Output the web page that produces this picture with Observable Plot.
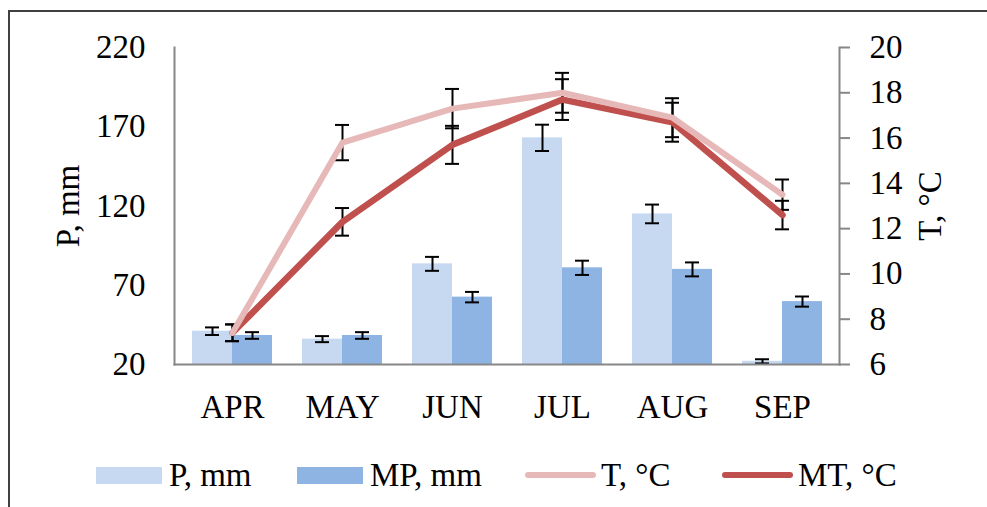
<!DOCTYPE html>
<html>
<head>
<meta charset="utf-8">
<script src="https://cdn.jsdelivr.net/npm/d3@7"></script>
<script src="https://cdn.jsdelivr.net/npm/@observablehq/plot@0.6"></script>
<style>
  html, body { margin: 0; padding: 0; background: #fff; overflow: hidden; }
  body { width: 987px; height: 507px; position: relative; font-family: "Liberation Serif", "Times New Roman", serif; }
  #frame { position: absolute; left: 8px; top: 10px; width: 1100px; height: 600px; border: 2px solid #404040; box-sizing: border-box; }
  #chart { position: absolute; left: 0; top: 0; width: 987px; height: 440px; }
  #chart svg { position: absolute; left: 0; top: 0; }
  .leg { position: absolute; top: 456px; height: 38px; display: flex; align-items: center; font-size: 33px; color: #000; white-space: nowrap; }
  .sw-bar { width: 66px; height: 17px; margin-right: 7px; }
  .sw-line { width: 71px; height: 6px; border-radius: 3px; margin-right: 5px; }
</style>
</head>
<body>
<div id="frame"></div>
<div id="chart"></div>
<div id="legend"></div>
<script>
// ---- data ----
const months = ["APR", "MAY", "JUN", "JUL", "AUG", "SEP"];
const barSeries = ["P, mm", "MP, mm"];
const lineSeries = ["T, °C", "MT, °C"];
const P      = [41, 36, 83.5, 163, 115, 22];
const P_err  = [2.4, 1.9, 4.4, 8.3, 5.9, 1.3];
const MP     = [38.3, 38.3, 62.5, 81, 80, 59.7];
const MP_err = [2.1, 2.1, 3.3, 4.5, 4.4, 3.2];
const T      = [7.4, 15.8, 17.3, 18.0, 16.9, 13.5];
const T_err  = [0.37, 0.78, 0.87, 0.88, 0.86, 0.67];
const MT     = [7.4, 12.3, 15.7, 17.7, 16.7, 12.6];
const MT_err = [0.37, 0.61, 0.84, 0.9, 0.86, 0.63];
const pTicks = [20, 70, 120, 170, 220];
const tTicks = [6, 8, 10, 12, 14, 16, 18, 20];
const barColors = ["#C6D9F1", "#8EB4E3"];
const lineColors = ["#E6B9B8", "#C0504D"];

const barData = months.flatMap((m, i) => [
  {month: m, series: barSeries[0], v: P[i], e: P_err[i]},
  {month: m, series: barSeries[1], v: MP[i], e: MP_err[i]}
]);
const lineData = months.flatMap((m, i) => [
  {month: m, series: lineSeries[0], v: T[i], e: T_err[i]},
  {month: m, series: lineSeries[1], v: MT[i], e: MT_err[i]}
]);

const W = 987, H = 440;
const dims = {width: W, height: H, marginLeft: 174, marginRight: 148, marginTop: 47, marginBottom: 76};
const style = {fontFamily: "Liberation Serif, Times New Roman, serif", fontSize: "33px", color: "#000", background: "none", overflow: "visible"};
const axisGray = "#878787";
const bandPad = {paddingInner: 0.277, paddingOuter: 0.1385};
const capWidth = 14;

// ---- left axis ----
const plot0 = Plot.plot({
  ...dims,
  style,
  y: {domain: [20, 220]},
  marks: [
    Plot.axisY(pTicks, {anchor: "left", tickSize: 0, tickPadding: 29, label: "P, mm", labelAnchor: "center", labelArrow: "none", labelOffset: 119})
  ]
});

// ---- bars (left axis scale) ----
const plot1 = Plot.plot({
  ...dims,
  style,
  fx: {domain: months, ...bandPad, label: null, axis: "bottom", tickSize: 0, tickPadding: 30},
  x: {domain: barSeries, padding: 0, axis: null},
  y: {domain: [20, 220], axis: null},
  color: {domain: barSeries, range: barColors},
  marks: [
    Plot.barY(barData, {fx: "month", x: "series", y1: 20, y2: "v", fill: "series"}),
    Plot.ruleX(barData, {fx: "month", x: "series", y1: d => d.v - d.e, y2: d => d.v + d.e, stroke: "#000", strokeWidth: 2}),
    Plot.tickY(barData, {fx: "month", x: "series", y: d => d.v - d.e, insetLeft: 13, insetRight: 13, stroke: "#000", strokeWidth: 2}),
    Plot.tickY(barData, {fx: "month", x: "series", y: d => d.v + d.e, insetLeft: 13, insetRight: 13, stroke: "#000", strokeWidth: 2})
  ]
});

// ---- lines (right axis scale) ----
function capRender(index, scales, values, dimensions, context, next) {
  const inset = (scales.x.bandwidth() - capWidth) / 2;
  this.insetLeft = inset; this.insetRight = inset;
  return next(index, scales, values, dimensions, context);
}
const plot2 = Plot.plot({
  ...dims,
  style,
  x: {type: "band", domain: months, ...bandPad, axis: null},
  y: {domain: [6, 20], axis: null},
  color: {domain: lineSeries, range: lineColors},
  marks: [
    Plot.frame({anchor: "left", stroke: axisGray, strokeWidth: 2}),
    Plot.frame({anchor: "bottom", stroke: axisGray, strokeWidth: 2}),
    Plot.frame({anchor: "right", stroke: axisGray, strokeWidth: 2}),
    Plot.axisY(tTicks, {anchor: "right", tickSize: 10, text: null, label: null, stroke: axisGray, strokeWidth: 2}),
    Plot.axisY(tTicks, {anchor: "right", tickSize: 0, tickPadding: 30, label: "T, °C", labelAnchor: "center", labelArrow: "none", labelOffset: 101}),
    Plot.ruleX(lineData, {x: "month", y1: d => d.v - d.e, y2: d => d.v + d.e, stroke: "#000", strokeWidth: 2}),
    Plot.tickY(lineData, {x: "month", y: d => d.v - d.e, stroke: "#000", strokeWidth: 2, render: capRender}),
    Plot.tickY(lineData, {x: "month", y: d => d.v + d.e, stroke: "#000", strokeWidth: 2, render: capRender}),
    Plot.line(lineData.filter(d => d.series === lineSeries[1]), {x: "month", y: "v", stroke: "series", strokeWidth: 6.5, strokeLinecap: "round", strokeLinejoin: "round"}),
    Plot.line(lineData.filter(d => d.series === lineSeries[0]), {x: "month", y: "v", stroke: "series", strokeWidth: 6, strokeLinecap: "round", strokeLinejoin: "round"})
  ]
});

const chart = document.getElementById("chart");
chart.appendChild(plot0);
chart.appendChild(plot1);
chart.appendChild(plot2);

// ---- legend ----
const legend = document.getElementById("legend");
const legendItems = [
  {label: barSeries[0], color: barColors[0], kind: "bar", left: 96},
  {label: barSeries[1], color: barColors[1], kind: "bar", left: 297},
  {label: lineSeries[0], color: lineColors[0], kind: "line", left: 525},
  {label: lineSeries[1], color: lineColors[1], kind: "line", left: 722}
];
for (const it of legendItems) {
  const d = document.createElement("div");
  d.className = "leg";
  d.style.left = it.left + "px";
  const sw = document.createElement("span");
  sw.className = it.kind === "bar" ? "sw-bar" : "sw-line";
  sw.style.background = it.color;
  const t = document.createElement("span");
  t.textContent = it.label;
  d.appendChild(sw);
  d.appendChild(t);
  legend.appendChild(d);
}
</script>
</body>
</html>
